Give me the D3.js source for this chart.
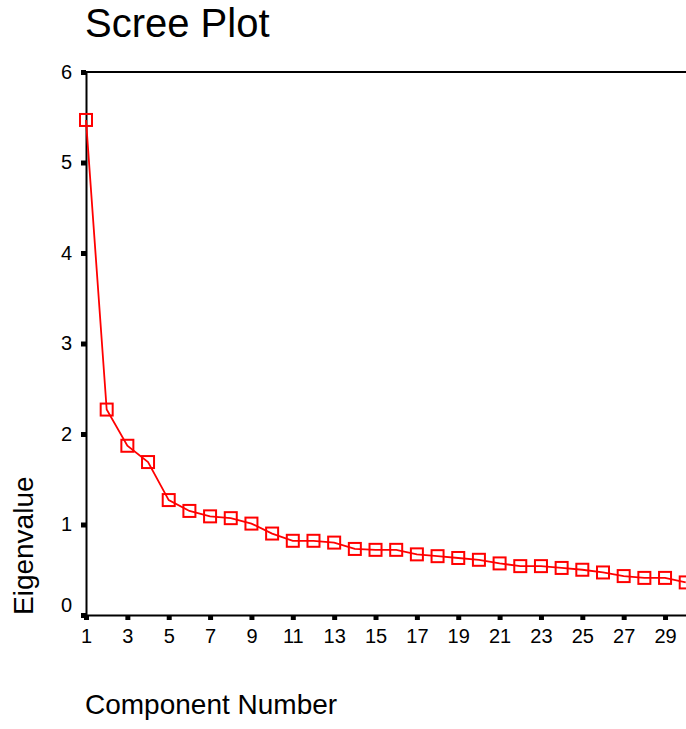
<!DOCTYPE html>
<html>
<head>
<meta charset="utf-8">
<script src="https://cdn.jsdelivr.net/npm/d3@7"></script>
<style>
  body { margin: 0; background: #fff; }
  svg text { font-family: "Liberation Sans", Arial, sans-serif; }
</style>
</head>
<body>
<svg id="chart" width="686" height="729"></svg>
<script>
const components = d3.range(1, 31);
const eigenvalues = [5.47, 2.27, 1.87, 1.69, 1.27, 1.15, 1.09, 1.07, 1.01, 0.90,
                     0.82, 0.82, 0.80, 0.73, 0.72, 0.72, 0.67, 0.65, 0.63, 0.61,
                     0.57, 0.54, 0.54, 0.52, 0.50, 0.47, 0.43, 0.41, 0.41, 0.36];
const xTicks = d3.range(1, 30, 2);
const yTicks = [0, 1, 2, 3, 4, 5, 6];

const svg = d3.select("#chart");

const xScale = d3.scaleLinear().domain([1, 31]).range([86, 86 + 30 * 20.68]);
const yScale = d3.scaleLinear().domain([0, 6]).range([615, 72]);

const data = components.map((c, i) => ({ c, v: eigenvalues[i] }));

// top frame line
svg.append("line")
  .attr("x1", 86).attr("x2", 720)
  .attr("y1", 72).attr("y2", 72)
  .attr("stroke", "#000").attr("stroke-width", 2);

const yAxis = svg.append("g")
  .attr("transform", "translate(86,0)")
  .call(d3.axisLeft(yScale).tickValues(yTicks).tickFormat(d3.format("d"))
    .tickSize(5).tickSizeOuter(0).tickPadding(9));

const xAxis = svg.append("g")
  .attr("transform", "translate(0,615)")
  .call(d3.axisBottom(xScale).tickValues(xTicks).tickFormat(d3.format("d"))
    .tickSize(5).tickSizeOuter(0).tickPadding(9));

[yAxis, xAxis].forEach(ax => {
  ax.select(".domain").attr("stroke", "#000").attr("stroke-width", 2);
  ax.selectAll(".tick line").attr("stroke", "#000").attr("stroke-width", 5);
  ax.selectAll(".tick text").attr("fill", "#000").style("font-size", "20px");
});

// the zero label sits a little above its tick
yAxis.selectAll(".tick text").filter(d => d === 0).attr("y", -10);

const line = d3.line().x(d => xScale(d.c)).y(d => yScale(d.v));

svg.append("path")
  .datum(data)
  .attr("d", line)
  .attr("fill", "none")
  .attr("stroke", "#ff0000")
  .attr("stroke-width", 1.8);

svg.selectAll("rect.pt")
  .data(data)
  .enter()
  .append("rect")
  .attr("class", "pt")
  .attr("x", d => xScale(d.c) - 6)
  .attr("y", d => yScale(d.v) - 6)
  .attr("width", 12)
  .attr("height", 12)
  .attr("fill", "none")
  .attr("stroke", "#ff0000")
  .attr("stroke-width", 2);

svg.append("text")
  .attr("x", 85).attr("y", 37)
  .style("font-size", "40px")
  .text("Scree Plot");

svg.append("text")
  .attr("transform", "translate(33,615) rotate(-90)")
  .style("font-size", "28px")
  .text("Eigenvalue");

svg.append("text")
  .attr("x", 85).attr("y", 714)
  .style("font-size", "28px")
  .text("Component Number");
</script>
</body>
</html>
